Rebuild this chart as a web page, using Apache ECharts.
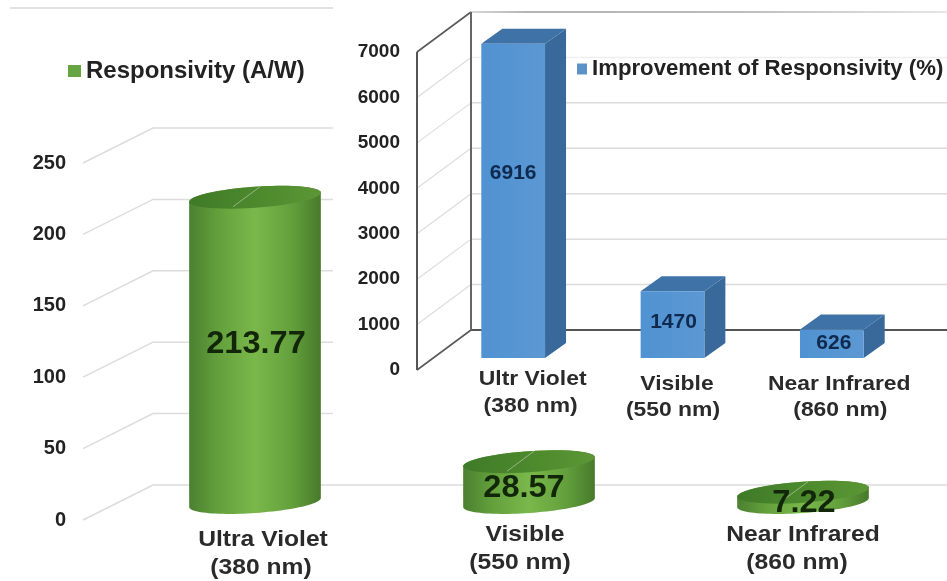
<!DOCTYPE html>
<html>
<head>
<meta charset="utf-8">
<style>html,body{margin:0;padding:0;background:#fff}#chart{width:947px;height:581px}</style>
<script src="https://cdn.jsdelivr.net/npm/echarts@6/dist/echarts.min.js"></script>
</head>
<body>
<div id="chart"></div>
<script>
// Responsivity per wavelength band
const responsivityName = 'Responsivity (A/W)';
const responsivityCategories = ['Ultra Violet\n(380 nm)', 'Visible\n(550 nm)', 'Near Infrared\n(860 nm)'];
const responsivityValues = [213.77, 28.57, 7.22];
const responsivityTicks = [0, 50, 100, 150, 200, 250];

// Relative improvement per wavelength band
const improvementName = 'Improvement of Responsivity (%)';
const improvementCategories = ['Ultr Violet\n(380 nm)', 'Visible\n(550 nm)', 'Near Infrared\n(860 nm)'];
const improvementValues = [6916, 1470, 626];
const improvementTicks = [0, 1000, 2000, 3000, 4000, 5000, 6000, 7000];

// Layout of the two pseudo-3D plots
const FONT = '"Liberation Sans", Arial, sans-serif';
const PAGE_RIGHT = 947;
const GREEN = { depthX: 70, depthY: -35, gridEnd: 333, barRatio: 0.48, rx: 66, ry: 10.5, tilt: -4 * Math.PI / 180 };
const BLUE = { depthX: 54, depthY: -40, faceX: 16.5, faceY: -12, sideX: 21, sideY: -15, barRatio: 0.4 };

// Category captions are set by hand around each band: [dx, dy] for each text line
const greenCaptionNudge = [[[43, 20], [41, 48]], [[31, 15], [26, 43]], [[35, 15], [29, 43]]];
const blueCaptionNudge = [[[36, 9], [34, 36]], [[21, 14], [17, 40]], [[24, 14], [25, 40]]];
const greenLabelNudge = [[1, -5], [-5, 6], [1, 6]];
const blueLabelNudge = [[0, -28], [1, -2], [2, -1]];

function text(content, x, y, size, color, scaleX) {
  return {
    type: 'text', x, y, scaleX: scaleX || 1, z2: 10,
    style: { text: content, x: 0, y: 0, align: 'center', verticalAlign: 'middle',
      fontFamily: FONT, fontWeight: 'bold', fontSize: size, fill: color }
  };
}

function ellipsePoint(cx, cy, t) {
  const ex = GREEN.rx * Math.cos(t), ey = GREEN.ry * Math.sin(t);
  const c = Math.cos(GREEN.tilt), s = Math.sin(GREEN.tilt);
  return [cx + ex * c - ey * s, cy + ex * s + ey * c];
}

function ellipseArc(cx, cy, from, to) {
  const pts = [];
  for (let k = 0; k <= 48; k++) pts.push(ellipsePoint(cx, cy, from + (to - from) * k / 48));
  return pts;
}

const linear = (stops, x2, y2) => new echarts.graphic.LinearGradient(0, 0, x2, y2,
  stops.map(([offset, color]) => ({ offset, color })));

// Cylinder standing on the middle plane of the floor
function renderCylinder(params, api) {
  const i = api.value(0), v = api.value(1);
  const front = api.coord([i, v]);
  const zero = api.coord([i, 0]);
  const cx = front[0] + GREEN.depthX / 2;
  const top = front[1] + GREEN.depthY / 2;
  const base = zero[1] + GREEN.depthY / 2;
  const body = ellipseArc(cx, top, Math.PI, 2 * Math.PI).concat(ellipseArc(cx, base, 0, Math.PI));
  const nudge = greenLabelNudge[i];
  const labelY = (top + base) / 2 + nudge[1];
  return {
    type: 'group',
    children: [
      { type: 'polygon', shape: { points: body },
        style: { fill: linear([[0, '#4b8030'], [0.22, '#63a03c'], [0.5, '#7ab84b'], [0.78, '#63a03c'], [1, '#477a2b']], 1, 0) } },
      { type: 'polygon', shape: { points: ellipseArc(cx, top, 0, 2 * Math.PI) },
        style: { fill: linear([[0, '#3f7a28'], [0.6, '#4f8c2e'], [1, '#5c9636']], 1, 0) } },
      { type: 'line', shape: { x1: cx - 22, y1: top + 9.5, x2: cx + 5, y2: top - 10.5 },
        style: { stroke: 'rgba(205,222,195,0.55)', lineWidth: 1 } },
      text(String(v), cx + nudge[0], labelY, 31, '#12260a', 1.05)
    ]
  };
}

// Box standing on the floor, a little behind the front edge
function renderBox(params, api) {
  const i = api.value(0), v = api.value(1);
  const w = api.size([1, 0])[0] * BLUE.barRatio;
  const topPt = api.coord([i, v]);
  const zero = api.coord([i, 0]);
  const x0 = topPt[0] + BLUE.faceX - w / 2, x1 = x0 + w;
  const yTop = topPt[1] + BLUE.faceY, yBase = zero[1] + BLUE.faceY;
  const sx = BLUE.sideX, sy = BLUE.sideY;
  const nudge = blueLabelNudge[i];
  return {
    type: 'group',
    children: [
      { type: 'polygon', shape: { points: [[x1, yTop], [x1 + sx, yTop + sy], [x1 + sx, yBase + sy], [x1, yBase]] },
        style: { fill: '#39699a' } },
      { type: 'polygon', shape: { points: [[x0, yTop], [x0 + sx, yTop + sy], [x1 + sx, yTop + sy], [x1, yTop]] },
        style: { fill: '#3f72a6' } },
      { type: 'rect', shape: { x: x0, y: yTop, width: w, height: yBase - yTop },
        style: { fill: linear([[0, '#5092d2'], [1, '#5c98d3']], 1, 0) } },
      text(String(v), (x0 + x1) / 2 + nudge[0], (yTop + yBase) / 2 + nudge[1], 21, '#0e2a4e', 1)
    ]
  };
}

// Side wall and back wall rulings of the green plot
function renderGreenGrid(params, api) {
  const v = api.value(1);
  const sys = params.coordSys;
  const y = api.coord([0, v])[1];
  const bx = sys.x + GREEN.depthX, by = y + GREEN.depthY;
  return { type: 'polyline',
    shape: { points: [[sys.x, y], [bx, by], [v === 0 ? PAGE_RIGHT : GREEN.gridEnd, by]] },
    style: { fill: 'none', stroke: '#dcdcdc', lineWidth: 1.5 } };
}

// Rulings and frame of the blue plot
function renderBlueGrid(params, api) {
  const v = api.value(1);
  const sys = params.coordSys;
  const y = api.coord([0, v])[1];
  const bx = sys.x + BLUE.depthX, by = y + BLUE.depthY;
  const floor = v === improvementTicks[0];
  const ceiling = v === improvementTicks[improvementTicks.length - 1];
  const children = [];
  children.push({ type: 'line', shape: { x1: sys.x, y1: y, x2: bx, y2: by },
    style: { stroke: floor || ceiling ? '#5a5a5a' : '#dddddd', lineWidth: floor || ceiling ? 1.6 : 1.2 } });
  let stroke = v === 6000 ? '#eeeeee' : '#dcdcdc', width = 1.5;
  if (floor) { stroke = '#555555'; width = 2; }
  if (ceiling) { stroke = linear([[0, '#d8d8d8'], [0.12, '#b4b4b4'], [0.55, '#bcbcbc'], [1, '#e6e6e6']], 1, 0); width = 2; }
  children.push({ type: 'line', shape: { x1: bx, y1: by, x2: PAGE_RIGHT, y2: by }, style: { stroke, lineWidth: width } });
  if (ceiling) {
    const low = api.coord([0, 0])[1];
    children.push({ type: 'line', shape: { x1: sys.x, y1: y, x2: sys.x, y2: low }, style: { stroke: '#555', lineWidth: 2 } });
    children.push({ type: 'line', shape: { x1: bx, y1: by, x2: bx, y2: low + BLUE.depthY }, style: { stroke: '#666', lineWidth: 2 } });
  }
  return { type: 'group', children };
}

function captionRenderer(categories, nudges, size, color, scaleX) {
  return function (params, api) {
    const i = api.value(0);
    const p = api.coord([i, 0]);
    const lines = categories[i].split('\n');
    return { type: 'group', children: lines.map((line, k) =>
      text(line, p[0] + nudges[i][k][0], p[1] + nudges[i][k][1], size, color, scaleX)) };
  };
}

const indexed = values => values.map((v, i) => [i, v]);
const ruled = ticks => ticks.map(v => [0, v]);
const hiddenCategoryAxis = (gridIndex, data) => ({
  type: 'category', gridIndex, data, axisLine: { show: false }, axisTick: { show: false },
  axisLabel: { show: false }, splitLine: { show: false }
});
const valueAxis = (gridIndex, ticks, margin, size) => ({
  type: 'value', gridIndex, min: ticks[0], max: ticks[ticks.length - 1], interval: ticks[1] - ticks[0],
  axisLine: { show: false }, axisTick: { show: false }, splitLine: { show: false },
  axisLabel: { margin, color: '#222', fontFamily: FONT, fontWeight: 'bold', fontSize: size, formatter: v => String(v) }
});
const legendText = size => ({ color: '#222', fontFamily: FONT, fontWeight: 'bold', fontSize: size });

const chart = echarts.init(document.getElementById('chart'));
chart.setOption({
  animation: false,
  backgroundColor: '#ffffff',
  grid: [
    { left: 83, top: 163, width: 822, height: 357 },
    { left: 417, top: 52, width: 478, height: 318 }
  ],
  xAxis: [hiddenCategoryAxis(0, responsivityCategories), hiddenCategoryAxis(1, improvementCategories)],
  yAxis: [valueAxis(0, responsivityTicks, 17, 20), valueAxis(1, improvementTicks, 17, 19)],
  legend: [
    { left: 68, top: 59, padding: 0, icon: 'rect', itemWidth: 13, itemHeight: 12, data: [responsivityName], textStyle: legendText(24) },
    { left: 577, top: 58, padding: 0, icon: 'rect', itemWidth: 10, itemHeight: 11, data: [improvementName], textStyle: legendText(22.2) }
  ],
  graphic: [
    { type: 'line', shape: { x1: 10, y1: 8, x2: 333, y2: 8 }, style: { stroke: '#e2e2e2', lineWidth: 2 }, silent: true }
  ],
  series: [
    { type: 'custom', name: 'responsivity rulings', xAxisIndex: 0, yAxisIndex: 0, renderItem: renderGreenGrid, data: ruled(responsivityTicks), silent: true },
    { type: 'custom', name: 'improvement rulings', xAxisIndex: 1, yAxisIndex: 1, renderItem: renderBlueGrid, data: ruled(improvementTicks), silent: true },
    { type: 'custom', name: responsivityName, xAxisIndex: 0, yAxisIndex: 0, renderItem: renderCylinder,
      itemStyle: { color: '#67a544' }, data: indexed(responsivityValues) },
    { type: 'custom', name: improvementName, xAxisIndex: 1, yAxisIndex: 1, renderItem: renderBox,
      itemStyle: { color: '#5b93c9' }, data: indexed(improvementValues) },
    { type: 'custom', name: 'responsivity captions', xAxisIndex: 0, yAxisIndex: 0,
      renderItem: captionRenderer(responsivityCategories, greenCaptionNudge, 22, '#2a2a2a', 1.12), data: indexed(responsivityValues), silent: true },
    { type: 'custom', name: 'improvement captions', xAxisIndex: 1, yAxisIndex: 1,
      renderItem: captionRenderer(improvementCategories, blueCaptionNudge, 21, '#2a2a2a', 1.09), data: indexed(improvementValues), silent: true }
  ]
});
</script>
</body>
</html>
